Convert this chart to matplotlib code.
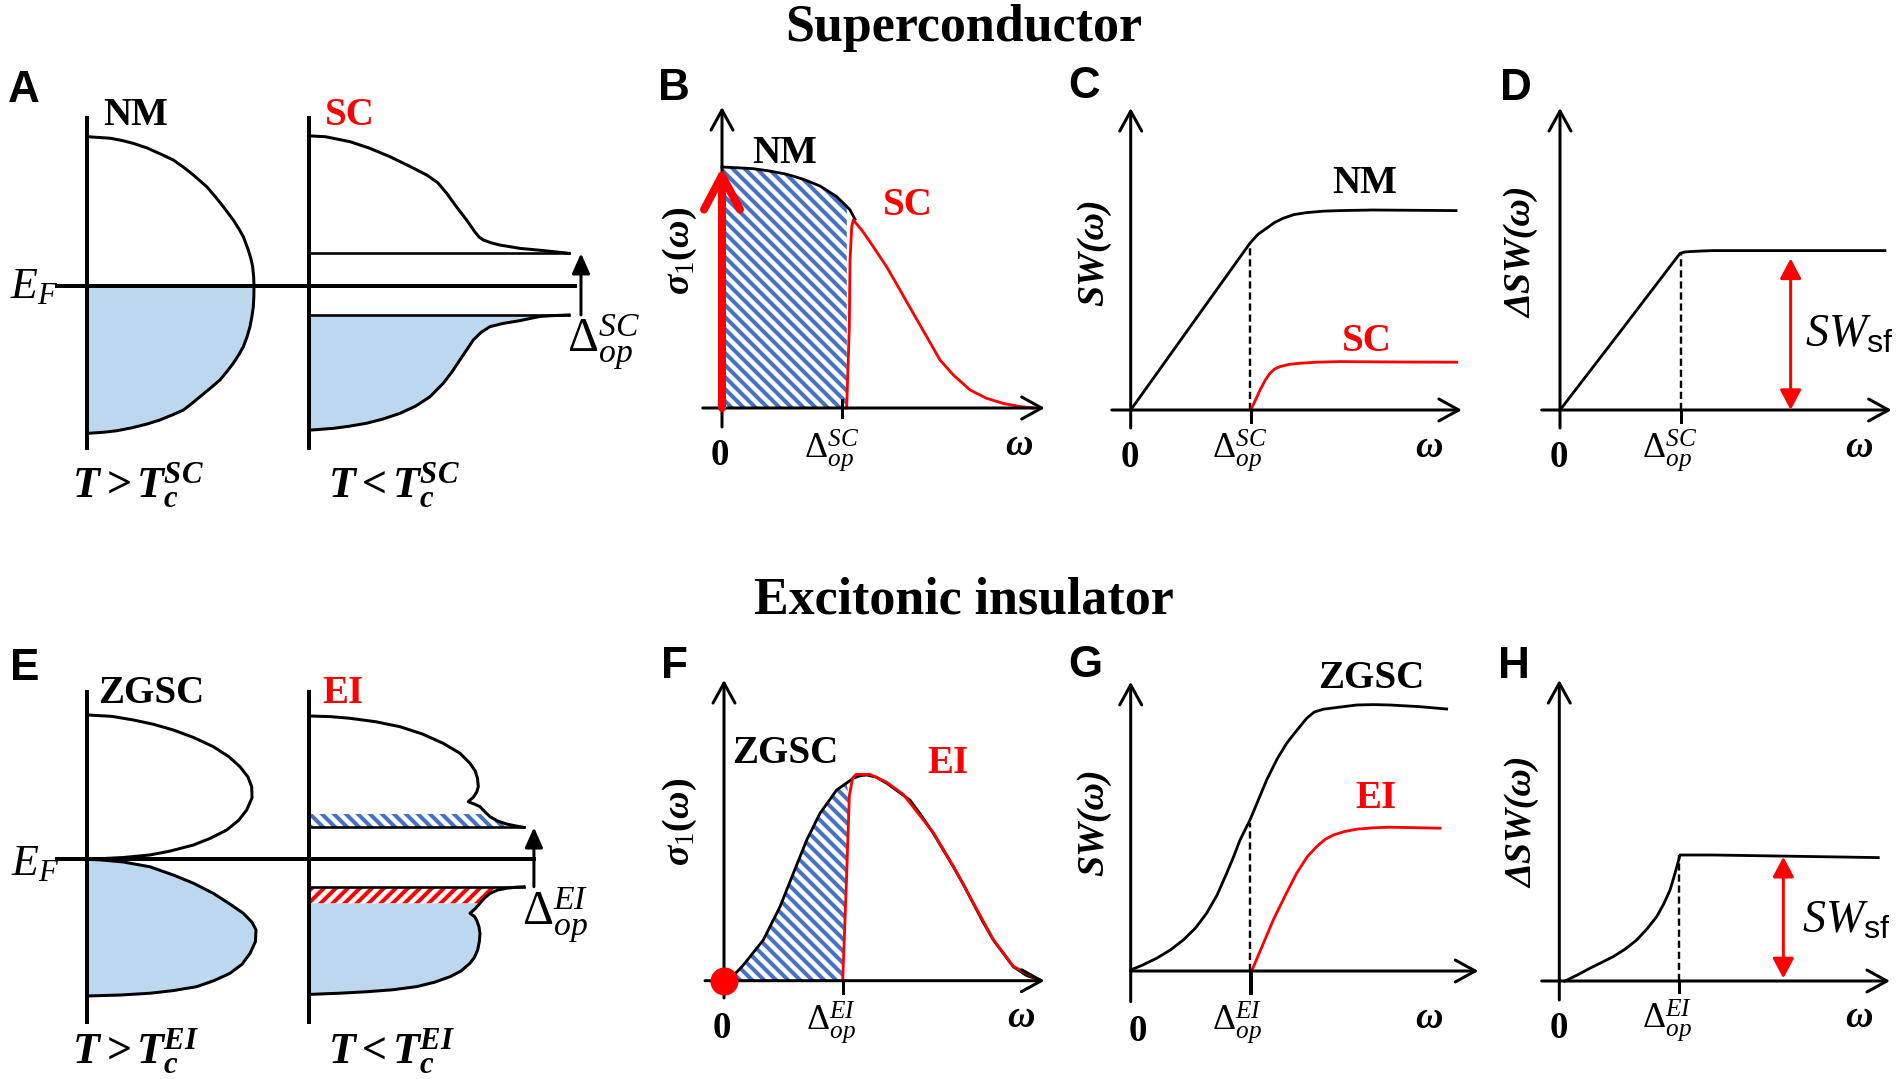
"""Schematic: spectral weight transfer in a superconductor vs an excitonic insulator"""
import matplotlib.pyplot as plt

W, H, DPI = 1900, 1079, 144

plt.rcParams['mathtext.fontset'] = 'custom'
plt.rcParams['mathtext.rm'] = 'Liberation Serif'
plt.rcParams['mathtext.it'] = 'Liberation Serif:italic'
plt.rcParams['mathtext.bf'] = 'Liberation Serif:bold'
plt.rcParams['mathtext.bfit'] = 'Liberation Serif:bold:italic'
plt.rcParams['mathtext.sf'] = 'Liberation Sans'
plt.rcParams['hatch.linewidth'] = 2.0

FILL = '#bdd7ee'
HBLUE = '#4472c4'
RED = '#ff0000'

# ---------------- values ----------------
# A: density of states (x) vs energy (y, E_F = 0)
nm_up_dos = [0.008, 0.14, 0.21, 0.277, 0.36, 0.44, 0.517, 0.58, 0.637, 0.717, 0.765, 0.816,
             0.876, 0.91, 0.936, 0.966, 0.982, 0.992, 0.998, 1.0]
nm_up_e = [0.995, 0.985, 0.97, 0.951, 0.92, 0.88, 0.84, 0.79, 0.74, 0.662, 0.6, 0.529,
           0.44, 0.38, 0.329, 0.24, 0.18, 0.129, 0.06, 0.0]
nm_dn_dos = [1.0, 0.999, 0.996, 0.988, 0.976, 0.958, 0.936, 0.908, 0.876, 0.838, 0.796, 0.74,
             0.677, 0.62, 0.577, 0.51, 0.437, 0.36, 0.27, 0.178, 0.1, 0.008]
nm_dn_e = [0.0, -0.07, -0.138, -0.2, -0.271, -0.34, -0.405, -0.46, -0.515, -0.57, -0.627, -0.68,
           -0.738, -0.79, -0.827, -0.86, -0.893, -0.92, -0.945, -0.965, -0.975, -0.982]
sc_up_dos = [0.018, 0.1, 0.246, 0.36, 0.485, 0.6, 0.705, 0.77, 0.825, 0.88, 0.944, 0.994,
             1.02, 1.044, 1.09, 1.144, 1.263, 1.413, 1.557]
sc_up_e = [1.0, 0.995, 0.962, 0.92, 0.862, 0.8, 0.74, 0.69, 0.618, 0.533, 0.44, 0.36,
           0.325, 0.307, 0.288, 0.273, 0.251, 0.235, 0.218]
sc_dn_dos = [1.557, 1.45, 1.383, 1.263, 1.16, 1.084, 1.03, 0.984, 0.945, 0.904, 0.855, 0.804,
             0.725, 0.64, 0.545, 0.44, 0.345, 0.24, 0.146, 0.016]
sc_dn_e = [-0.193, -0.198, -0.203, -0.231, -0.25, -0.271, -0.31, -0.36, -0.425, -0.493, -0.575,
           -0.649, -0.738, -0.8, -0.849, -0.888, -0.915, -0.935, -0.949, -0.96]
sc_gap = (0.218, -0.193)

# E: ZGSC and EI densities of states
zg_up_dos = [0.01, 0.15, 0.279, 0.4, 0.519, 0.64, 0.758, 0.85, 0.918, 0.965, 0.988, 0.99,
             0.958, 0.91, 0.838, 0.74, 0.638, 0.5, 0.379, 0.22, 0.08, 0.0]
zg_up_e = [0.962, 0.953, 0.929, 0.9, 0.862, 0.812, 0.751, 0.685, 0.617, 0.55, 0.484, 0.41,
           0.329, 0.26, 0.195, 0.14, 0.095, 0.055, 0.029, 0.012, 0.004, 0.0]
zg_dn_dos = [0.0, 0.08, 0.22, 0.379, 0.519, 0.64, 0.758, 0.86, 0.938, 0.99, 1.014, 1.01,
             0.978, 0.93, 0.858, 0.76, 0.659, 0.52, 0.379, 0.2, 0.01]
zg_dn_e = [0.0, -0.004, -0.018, -0.05, -0.105, -0.16, -0.227, -0.3, -0.36, -0.42, -0.471, -0.55,
           -0.627, -0.7, -0.76, -0.81, -0.849, -0.875, -0.893, -0.905, -0.911]
ei_up_dos = [0.016, 0.13, 0.246, 0.4, 0.545, 0.68, 0.804, 0.904, 0.964, 0.995, 1.009, 1.014,
             1.005, 0.985, 0.954, 0.99, 1.024, 1.055, 1.084, 1.13, 1.184, 1.24, 1.287]
ei_up_e = [0.955, 0.951, 0.94, 0.917, 0.884, 0.835, 0.773, 0.707, 0.64, 0.59, 0.54, 0.484,
           0.45, 0.415, 0.384, 0.368, 0.351, 0.315, 0.284, 0.255, 0.235, 0.222, 0.213]
ei_dn_dos = [1.287, 1.24, 1.184, 1.13, 1.084, 1.05, 1.024, 0.995, 0.964, 0.99, 1.004, 1.018,
             1.024, 1.02, 1.01, 0.99, 0.964, 0.91, 0.844, 0.75, 0.644, 0.5, 0.345, 0.18, 0.016]
ei_dn_e = [-0.183, -0.186, -0.193, -0.205, -0.227, -0.26, -0.293, -0.33, -0.36, -0.38, -0.405,
           -0.45, -0.493, -0.55, -0.605, -0.655, -0.693, -0.745, -0.783, -0.82, -0.849, -0.87,
           -0.883, -0.893, -0.9]
ei_gap = (0.213, -0.183)
ei_band = (0.302, -0.293)   # edges of the hatched bands

# B: sigma_1(omega), omega in units of the SC gap
b_nm_w = [0, 0.122, 0.261, 0.4, 0.539, 0.678, 0.817, 0.956, 1.04, 1.067, 1.108]
b_nm_s = [1.0, 0.997, 0.993, 0.983, 0.97, 0.949, 0.921, 0.877, 0.836, 0.822, 0.783]
b_sc_w = [1.039, 1.061, 1.067, 1.081, 1.094, 1.17, 1.261, 1.372, 1.483, 1.594, 1.706, 1.817,
          1.928, 2.067, 2.206, 2.344, 2.483, 2.594]
b_sc_s = [0, 0.337, 0.614, 0.752, 0.78, 0.735, 0.669, 0.586, 0.49, 0.393, 0.296, 0.199,
          0.137, 0.075, 0.04, 0.019, 0.006, 0]

# C: SW(omega)
c_nm_w = [0, 0.5, 0.994, 1.06, 1.133, 1.2, 1.272, 1.36, 1.467, 1.6, 1.744, 2.02, 2.711]
c_nm_y = [0, 0.42, 0.834, 0.878, 0.909, 0.938, 0.959, 0.977, 0.987, 0.994, 0.997, 1.0, 0.997]
c_sc_w = [1.0, 1.04, 1.078, 1.12, 1.161, 1.2, 1.244, 1.32, 1.411, 1.55, 1.744, 2.244, 2.717]
c_sc_y = [0, 0.05, 0.1, 0.148, 0.184, 0.205, 0.217, 0.228, 0.234, 0.239, 0.242, 0.24, 0.239]

# D: Delta SW(omega)
d_w = [0, 0.5, 1.0, 1.04, 1.083, 1.18, 1.278, 2.708]
d_y = [0, 0.39, 0.783, 0.79, 0.792, 0.795, 0.797, 0.797]
d_sf = (1.922, 0.0, 0.758)

# F: sigma_1(omega) ZGSC / EI
f_zg_w = [0, 0.08, 0.163, 0.331, 0.472, 0.584, 0.697, 0.809, 0.949, 1.089, 1.15, 1.202, 1.28,
          1.371, 1.567, 1.66, 1.763, 1.932, 2.02, 2.1, 2.18, 2.269, 2.437, 2.55, 2.662]
f_zg_s = [0, 0.025, 0.076, 0.198, 0.36, 0.522, 0.684, 0.814, 0.927, 0.984, 0.997, 1.0, 0.99,
          0.96, 0.878, 0.805, 0.717, 0.554, 0.465, 0.376, 0.288, 0.198, 0.068, 0.025, 0.003]
f_ei_w = [1.0, 1.034, 1.056, 1.084, 1.112, 1.23, 1.37, 1.51, 1.763, 1.932, 2.1, 2.269, 2.437, 2.662]
f_ei_s = [0, 0.522, 0.9, 0.985, 1.003, 1.003, 0.965, 0.906, 0.72, 0.557, 0.378, 0.2, 0.07, 0.0]

# G: SW(omega) ZGSC / EI
g_zg_w = [0, 0.1, 0.217, 0.33, 0.438, 0.54, 0.633, 0.72, 0.8, 0.86, 0.911, 0.994, 1.06, 1.133,
          1.22, 1.3, 1.38, 1.467, 1.53, 1.605, 1.75, 1.883, 2.02, 2.161, 2.4, 2.633]
g_zg_y = [0.005, 0.03, 0.064, 0.105, 0.155, 0.215, 0.289, 0.38, 0.489, 0.575, 0.655, 0.755, 0.85,
          0.955, 1.06, 1.139, 1.2, 1.264, 1.295, 1.309, 1.32, 1.33, 1.332, 1.33, 1.322, 1.31]
g_ei_w = [1.008, 1.1, 1.188, 1.29, 1.383, 1.47, 1.55, 1.62, 1.689, 1.78, 1.883, 2.02, 2.161, 2.578]
g_ei_y = [0, 0.13, 0.255, 0.38, 0.489, 0.57, 0.622, 0.658, 0.68, 0.697, 0.709, 0.716, 0.719, 0.714]

# H: Delta SW(omega)
h_w = [0.048, 0.15, 0.256, 0.35, 0.45, 0.55, 0.645, 0.73, 0.812, 0.87, 0.923, 0.965, 1.006,
       1.283, 2.658]
h_y = [0, 0.03, 0.064, 0.092, 0.122, 0.16, 0.205, 0.26, 0.322, 0.385, 0.455, 0.54, 0.63,
       0.63, 0.617]
h_sf = (1.867, 0.013, 0.621)

fig = plt.figure(figsize=(W / DPI, H / DPI), dpi=DPI, facecolor='white')


def panel(box, origin, unit):
    left, top, right, bottom = box
    ax = fig.add_axes([left / W, 1 - bottom / H, (right - left) / W, (bottom - top) / H])
    ax.set_xlim((left - origin[0]) / unit[0], (right - origin[0]) / unit[0])
    ax.set_ylim((origin[1] - bottom) / unit[1], (origin[1] - top) / unit[1])
    ax.axis('off')
    return ax


def arrow(ax, start, end, style, lw=1.5, color='black', **kw):
    ax.annotate('', xy=end, xytext=start, annotation_clip=False,
                arrowprops=dict(arrowstyle=style, lw=lw, color=color, shrinkA=0, shrinkB=0,
                                mutation_scale=10, **kw))


def frame(ax, x0, x1, y0, y1):
    open_head = '->,head_length=1.0,head_width=0.55'
    arrow(ax, (x0, 0), (x1, 0), open_head)
    arrow(ax, (0, y0), (0, y1), open_head)


def line(ax, x, y, color='black', lw=1.4, **kw):
    ax.plot(x, y, color=color, lw=lw, clip_on=False, solid_joinstyle='round', **kw)


DASH = (0, (3, 1.6))

# ---------------- A ----------------
axA = panel((0, 100, 660, 470), (87, 286), (167, 150))
offA = 1.329
axA.fill([0] + nm_dn_dos + [0], [0] + nm_dn_e + [nm_dn_e[-1]], color=FILL, lw=0)
axA.fill([offA] + [offA + v for v in sc_dn_dos] + [offA], [sc_gap[1]] + sc_dn_e + [sc_dn_e[-1]],
         color=FILL, lw=0)
line(axA, [0, 0], [1.12, -1.08], lw=2)
line(axA, [offA, offA], [1.12, -1.08], lw=2)
line(axA, [0] + nm_up_dos, [nm_up_e[0]] + nm_up_e, lw=1.5)
line(axA, nm_dn_dos + [0], nm_dn_e + [nm_dn_e[-1]], lw=1.5)
line(axA, [offA] + [offA + v for v in sc_up_dos], [sc_up_e[0]] + sc_up_e, lw=1.5)
line(axA, [offA + v for v in sc_dn_dos] + [offA], sc_dn_e + [sc_dn_e[-1]], lw=1.5)
line(axA, [offA, offA + sc_up_dos[-1]], [sc_gap[0], sc_gap[0]], lw=1.3)
line(axA, [offA, offA + sc_dn_dos[0]], [sc_gap[1], sc_gap[1]], lw=1.3)
line(axA, [-0.18, 2.922], [0, 0], lw=2)
arrow(axA, (2.958, sc_gap[1]), (2.958, sc_gap[0]), '-|>,head_length=0.85,head_width=0.38')

# ---------------- E ----------------
axE = panel((0, 670, 660, 1040), (86.7, 859.3), (167, 150))
offE = 1.331
axE.fill([0] + zg_dn_dos + [0], [0] + zg_dn_e + [zg_dn_e[-1]], color=FILL, lw=0)
low = [i for i, e in enumerate(ei_dn_e) if e <= ei_band[1]]
axE.fill([offE] + [offE + ei_dn_dos[i] for i in low] + [offE],
         [ei_band[1]] + [ei_dn_e[i] for i in low] + [ei_dn_e[-1]], color=FILL, lw=0)
red_band = [i for i, e in enumerate(ei_dn_e) if e >= ei_band[1]]
axE.fill([offE] + [offE + ei_dn_dos[i] for i in red_band] + [offE],
         [ei_gap[1]] + [ei_dn_e[i] for i in red_band] + [ei_band[1]],
         facecolor='white', edgecolor=RED, lw=0, hatch='////')
blue_band = [i for i, e in enumerate(ei_up_e) if e <= ei_band[0]]
axE.fill([offE] + [offE + ei_up_dos[i] for i in blue_band][::-1] + [offE + 1.068, offE],
         [ei_gap[0]] + [ei_up_e[i] for i in blue_band][::-1] + [ei_band[0], ei_band[0]],
         facecolor='white', edgecolor=HBLUE, lw=0, hatch='\\\\\\\\')
line(axE, [0, 0], [1.117, -1.083], lw=2)
line(axE, [offE, offE], [1.117, -1.083], lw=2)
line(axE, [0] + zg_up_dos, [zg_up_e[0]] + zg_up_e, lw=1.5)
line(axE, zg_dn_dos + [0], zg_dn_e + [zg_dn_e[-1]], lw=1.5)
line(axE, [offE] + [offE + v for v in ei_up_dos], [ei_up_e[0]] + ei_up_e, lw=1.5)
line(axE, [offE + v for v in ei_dn_dos] + [offE], ei_dn_e + [ei_dn_e[-1]], lw=1.5)
line(axE, [offE, offE + ei_up_dos[-1]], [ei_gap[0], ei_gap[0]], lw=1.3)
line(axE, [offE, offE + ei_dn_dos[0]], [ei_gap[1], ei_gap[1]], lw=1.3)
line(axE, [-0.178, 2.678], [0, 0], lw=2)
arrow(axE, (2.678, ei_gap[1]), (2.678, ei_gap[0]), '-|>,head_length=0.85,head_width=0.38')

# ---------------- B ----------------
axB = panel((640, 95, 1060, 440), (722, 408), (120, 241))
hb = [i for i, w in enumerate(b_nm_w) if w <= 1.04]
axB.fill([0] + [b_nm_w[i] for i in hb] + [1.04], [0] + [b_nm_s[i] for i in hb] + [0],
         facecolor='white', edgecolor=HBLUE, lw=0, hatch='\\\\\\\\')
frame(axB, -0.16, 2.69, -0.079, 1.249)
line(axB, [1.0, 1.0], [0.033, -0.037], lw=1.5)
line(axB, b_nm_w, b_nm_s)
line(axB, b_sc_w, b_sc_s, color=RED)
arrow(axB, (0, 0), (0, 1.0), '->,head_length=1.7,head_width=0.9', lw=4, color=RED,
      capstyle='round', joinstyle='round')

# ---------------- C ----------------
axC = panel((1060, 95, 1480, 440), (1130.7, 410), (120, 200))
frame(axC, -0.158, 2.76, -0.09, 1.51)
line(axC, [0.994, 0.994], [0, c_nm_y[2]], lw=1.2, linestyle=DASH)
line(axC, [1.0, 1.0], [0, -0.06], lw=1.5)
line(axC, c_nm_w, c_nm_y)
line(axC, c_sc_w, c_sc_y, color=RED)

# ---------------- D ----------------
axD = panel((1490, 95, 1900, 440), (1560, 410), (120, 200))
frame(axD, -0.153, 2.764, -0.09, 1.51)
line(axD, [1.006, 1.006], [0, d_y[2]], lw=1.2, linestyle=DASH)
line(axD, [1.006, 1.006], [0, -0.06], lw=1.5)
line(axD, d_w, d_y)
arrow(axD, (d_sf[0], d_sf[1]), (d_sf[0], d_sf[2]), '<|-|>,head_length=0.85,head_width=0.45',
      color=RED)

# ---------------- F ----------------
axF = panel((640, 665, 1060, 1010), (724, 980.7), (118.7, 205.7))
hf = [i for i, w in enumerate(f_zg_w) if w <= 0.95]
axF.fill([f_zg_w[i] for i in hf] + [1.03, 1.056, 1.034, 1.0],
         [f_zg_s[i] for i in hf] + [0.96, 0.9, 0.522, 0],
         facecolor='white', edgecolor=HBLUE, lw=0, hatch='\\\\\\\\')
frame(axF, -0.16, 2.70, -0.084, 1.462)
line(axF, [1.0, 1.0], [0, -0.058], lw=1.5)
line(axF, f_zg_w, f_zg_s)
line(axF, f_ei_w, f_ei_s, color=RED)
axF.plot(0, 0, 'o', ms=13, color=RED, clip_on=False, zorder=5)

# ---------------- G ----------------
axG = panel((1060, 665, 1490, 1010), (1130.7, 971), (120, 200))
frame(axG, 0, 2.897, -0.153, 1.446)
line(axG, [0.994, 0.994], [0, 0.74], lw=1.2, linestyle=DASH)
line(axG, [1.0, 1.0], [0, -0.11], lw=2)
line(axG, g_zg_w, g_zg_y)
line(axG, g_ei_w, g_ei_y, color=RED)

# ---------------- H ----------------
axH = panel((1490, 665, 1900, 1010), (1559.3, 981), (120, 200))
frame(axH, -0.147, 2.756, -0.095, 1.505)
line(axH, [1.0, 1.0], [0, 0.63], lw=1.2, linestyle=DASH)
line(axH, [1.0, 1.0], [0, -0.053], lw=1.5)
line(axH, h_w, h_y)
arrow(axH, (h_sf[0], h_sf[1]), (h_sf[0], h_sf[2]), '<|-|>,head_length=0.85,head_width=0.45',
      color=RED)

# ---------------- text ----------------
ov = fig.add_axes([0, 0, 1, 1])
ov.set_xlim(0, W)
ov.set_ylim(H, 0)
ov.axis('off')

SERIF = 'Liberation Serif'


def txt(x, y, s, size, color='black', ha='left', weight='bold', style='normal',
        family=SERIF, rot=0, va='baseline'):
    ov.text(x, y, s, fontsize=size, color=color, ha=ha, va=va, fontweight=weight,
            fontstyle=style, family=family, rotation=rot)


txt(964, 41, 'Superconductor', 26, ha='center')
txt(964, 614, 'Excitonic insulator', 26, ha='center')

for letter, x, y in [('A', 8, 102), ('B', 658, 100), ('C', 1068, 98), ('D', 1500, 100),
                     ('E', 10, 680), ('F', 661, 678), ('G', 1068, 677), ('H', 1498, 678)]:
    txt(x, y, letter, 22, family='Liberation Sans')

for s, x, y, c in [('NM', 103, 125, 'black'), ('SC', 325, 125, RED),
                   ('NM', 752, 163, 'black'), ('SC', 883, 215, RED),
                   ('NM', 1332, 193, 'black'), ('SC', 1342, 351, RED),
                   ('ZGSC', 98, 703, 'black'), ('EI', 322, 703, RED),
                   ('ZGSC', 732, 763, 'black'), ('EI', 927, 773, RED),
                   ('ZGSC', 1318, 688, 'black'), ('EI', 1355, 808, RED)]:
    txt(x, y, s, 19.5, color=c)

for x, y in [(719.5, 465), (1129.5, 467), (1559, 467), (721.5, 1038), (1137.5, 1041), (1559, 1038)]:
    txt(x, y, '0', 18.5, ha='center')

for x, y in [(1005, 455), (1415, 457), (1845, 457), (1007, 1027), (1415, 1028), (1845, 1027)]:
    txt(x, y, 'ω', 19, style='italic')

for x, y, s in [(804, 457, 'SC'), (1212, 457, 'SC'), (1642, 457, 'SC'),
                (806, 1029, 'EI'), (1212, 1029, 'EI'), (1642, 1027, 'EI')]:
    txt(x, y, r'$\Delta_{op}^{%s}$' % s, 18, weight='normal')
txt(567, 352, r'$\Delta_{op}^{SC}$', 24, weight='normal')
txt(522, 925, r'$\Delta_{op}^{EI}$', 24, weight='normal')

sigma = r'$\mathbfit{\sigma}_{\mathrm{1}}\mathbf{(}\mathbfit{\omega}\mathbf{)}$'
txt(680, 251, sigma, 19, rot=90, ha='center', va='center')
txt(680, 822, sigma, 19, rot=90, ha='center', va='center')
for x, y in [(1094, 252), (1094, 822)]:
    txt(x, y, 'SW(ω)', 19, style='italic', rot=90, ha='center', va='center')
for x, y in [(1522, 252), (1523, 822)]:
    txt(x, y, 'ΔSW(ω)', 19, style='italic', rot=90, ha='center', va='center')

txt(1805, 347, r'$SW_{\mathsf{sf}}$', 23, weight='normal')
txt(1802, 933, r'$SW_{\mathsf{sf}}$', 23, weight='normal')

txt(10, 298, r'$E_F$', 22, weight='normal')
txt(11, 875, r'$E_F$', 22, weight='normal')

txt(72, 497, r'$\mathbfit{T > T_c^{SC}}$', 22)
txt(328, 497, r'$\mathbfit{T < T_c^{SC}}$', 22)
txt(72, 1063, r'$\mathbfit{T > T_c^{EI}}$', 22)
txt(328, 1063, r'$\mathbfit{T < T_c^{EI}}$', 22)

fig.savefig('out.png', dpi=DPI, facecolor='white')
